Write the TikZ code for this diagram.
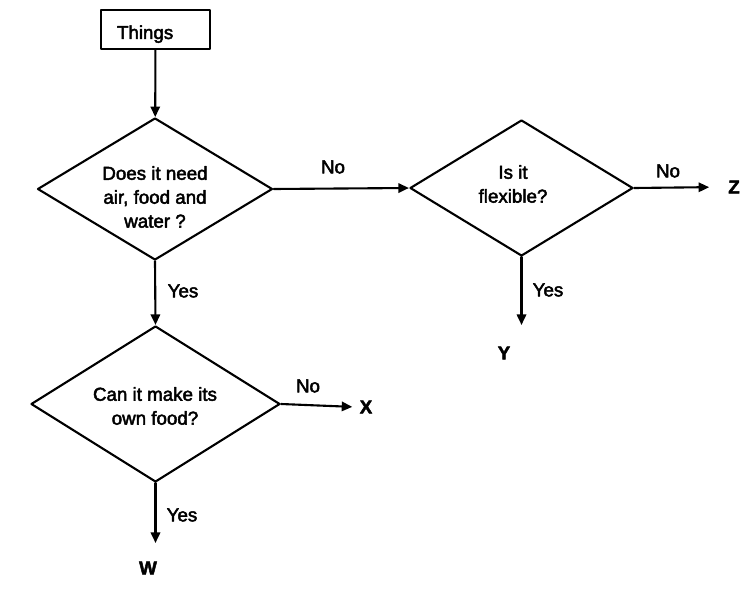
\documentclass[tikz,border=0pt]{standalone}
\usepackage{fontspec}
\setmainfont{Liberation Sans}[FakeBold=2.5]
\usepackage{tikz}
\usetikzlibrary{arrows}
\usetikzlibrary{arrows.meta}
\usetikzlibrary{shapes.geometric}

\tikzset{
  question/.style={diamond,draw,line width=1.8pt,inner sep=0pt},
  qtext/.style={align=center,inner sep=0pt,font=\fontsize{16pt}{20.4pt}\selectfont},
  lbl/.style={font=\fontsize{16pt}{19pt}\selectfont},
  leaf/.style={font=\fontsize{16pt}{19pt}\selectfont\bfseries}
}

\begin{document}
\begin{tikzpicture}[line cap=round,line join=round,>={Triangle[length=9pt,width=8pt]},x=0.03cm,y=-0.03cm]
\useasboundingbox (0,0) rectangle (756,595);
% start box
\node[draw,line width=1.8pt,minimum width=3.27cm,minimum height=1.17cm,inner xsep=0.48cm,text width=2.31cm,text height=0.57cm,text depth=0pt,align=left,lbl] (things) at (155.5,29.5) {Things};
% questions
\node[question,minimum width=7.05cm,minimum height=4.26cm] (needs) at (155,189) {};
\node[qtext] (needs text) at (155,197) {Does it need\\air, food and\\water ?};
\node[question,minimum width=6.69cm,minimum height=4.08cm] (flexible) at (521.5,188) {};
\node[qtext] (flexible text) at (513,184) {Is it\\flexible?};
\node[question,minimum width=7.47cm,minimum height=4.68cm] (food) at (155.5,404) {};
\node[qtext] (food text) at (155,406) {Can it make its\\own food?};
% outcomes
\node[leaf] (z) at (734,187) {Z};
\node[leaf] (y) at (504,353) {Y};
\node[leaf] (x) at (366,407) {X};
\node[leaf] (w) at (148,568) {W};
% connectors
\draw[->,line width=1.8pt] (things) -- (needs);
\draw[->,line width=1.8pt] (needs.east) -- (flexible.west);
\draw[->,line width=1.8pt] (needs.south) -- (food.north);
\draw[->,line width=1.8pt,shorten >=0.45cm] (flexible.east) -- (z.west);
\draw[->,line width=1.8pt] (flexible.south) -- (flexible.south |- 0,325);
\draw[->,line width=1.8pt,shorten >=0.1cm] (food.east) -- (x.west);
\draw[->,line width=1.8pt] (food.south) -- (food.south |- 0,543);
% answers
\node[lbl] (no1) at (333,167) {No};
\node[lbl] (no2) at (668,171) {No};
\node[lbl] (no3) at (308,386) {No};
\node[lbl] (yes1) at (183,291) {Yes};
\node[lbl] (yes2) at (548,290) {Yes};
\node[lbl] (yes3) at (182,515) {Yes};
\end{tikzpicture}
\end{document}
